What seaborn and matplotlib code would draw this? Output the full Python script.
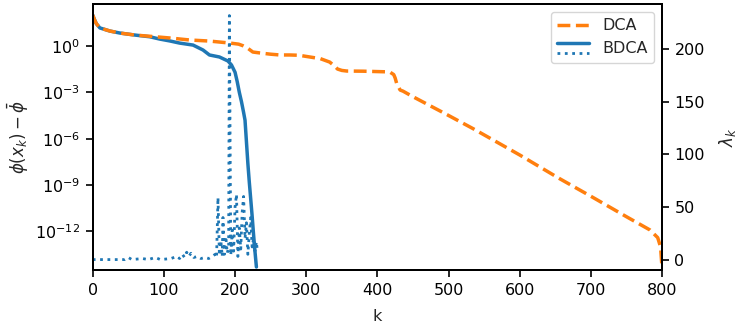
import numpy as np
import pandas as pd
import matplotlib
matplotlib.use("Agg")
import matplotlib.pyplot as plt
import seaborn as sns
from matplotlib.legend_handler import HandlerBase
from matplotlib.lines import Line2D
from matplotlib.ticker import FixedLocator, NullLocator, LogFormatterSciNotation

# ---- data ----
dca_k = [0, 2, 5, 10, 24, 38, 59, 80, 108, 136, 164, 193, 205, 211, 218, 225, 235, 250,
         263, 277, 290, 305, 320, 333, 340, 344, 350, 357, 380, 404, 413, 418, 423, 425,
         427, 432, 436, 450, 497, 535, 600, 656, 703, 751, 783, 794, 798, 800]
dca_log = [2.0, 1.75, 1.45, 1.17, 0.97, 0.84, 0.71, 0.63, 0.52, 0.39, 0.32, 0.19, 0.12, 0.02,
           -0.15, -0.39, -0.45, -0.53, -0.58, -0.58, -0.6, -0.71, -0.82, -1.04, -1.3, -1.49,
           -1.58, -1.62, -1.63, -1.66, -1.67, -1.7, -1.85, -2.07, -2.4, -2.85, -2.92, -3.28,
           -4.42, -5.36, -7.05, -8.58, -9.8, -11.07, -11.9, -12.4, -13.0, -14.3]

bdca_k = [0, 2, 5, 10, 24, 38, 59, 80, 94, 108, 122, 141, 155, 164, 178, 190, 195, 200, 203,
          206, 209, 212, 214, 216, 218, 220, 222, 224, 226, 228, 230]
bdca_log = [2.0, 1.75, 1.45, 1.17, 0.97, 0.84, 0.71, 0.6, 0.45, 0.33, 0.19, 0.06, -0.26, -0.58,
            -0.71, -0.97, -1.23, -1.7, -2.3, -3.0, -3.6, -4.3, -4.8, -6.2, -7.6, -8.8, -9.9,
            -11.0, -12.2, -13.3, -14.3]

lam_k = [0, 45, 50, 55, 70, 78, 88, 95, 110, 118, 122, 126, 129, 132, 135, 138, 142, 147, 152,
         158, 163, 168, 172, 174, 176, 178, 180, 182, 183, 185, 187, 189, 191, 192, 194, 196,
         198, 200, 202, 204, 206, 208, 210, 212, 214, 216, 218, 220, 222, 224, 226, 228, 230, 231]
lam_val = [0, 0, 2, 0, 1, 0, 2, 0, 1, 3, 1, 5, 2, 7, 3, 6, 2, 3, 1, 2, 1, 3, 5, 2, 59, 4, 18,
           3, 40, 5, 22, 6, 12, 232, 4, 28, 8, 50, 62, 3, 30, 10, 45, 60, 20, 35, 5, 25, 40,
           12, 20, 8, 17, 10]

dca = pd.DataFrame({"k": dca_k, "gap": 10.0 ** np.array(dca_log)})
bdca = pd.DataFrame({"k": bdca_k, "gap": 10.0 ** np.array(bdca_log)})
lam = pd.DataFrame({"k": lam_k, "lam": lam_val})

sns.set_style("ticks")
plt.rcParams["font.family"] = ["DejaVu Sans"]
plt.rcParams["mathtext.fontset"] = "dejavusans"

BLUE = "#1f77b4"
ORANGE = "#ff7f0e"
FS = 11.5

fig = plt.figure(figsize=(7.48, 3.31), dpi=100)
ax = fig.add_axes([0.124, 0.184, 0.761, 0.804])
ax2 = ax.twinx()

sns.lineplot(data=bdca, x="k", y="gap", ax=ax, color=BLUE, linewidth=2.5,
             sort=False, estimator=None)
sns.lineplot(data=dca, x="k", y="gap", ax=ax, color=ORANGE, linewidth=2.5,
             linestyle="--", sort=False, estimator=None)
sns.lineplot(data=lam, x="k", y="lam", ax=ax2, color=BLUE, linewidth=2.0,
             linestyle=":", sort=False, estimator=None)

ax.set_yscale("log")
ax.set_xlim(0, 800)
ax.set_ylim(10 ** -14.5, 10 ** 2.72)
ax.yaxis.set_major_locator(FixedLocator([1e-12, 1e-9, 1e-6, 1e-3, 1e0]))
ax.yaxis.set_major_formatter(LogFormatterSciNotation())
ax.yaxis.set_minor_locator(NullLocator())
ax2.set_ylim(-10, 243)
ax2.set_yticks([0, 50, 100, 150, 200])
ax.set_xticks([0, 100, 200, 300, 400, 500, 600, 700, 800])

ax.set_xlabel("k", fontsize=FS, labelpad=8)
ax.set_ylabel(r"$\phi(x_k) - \bar{\phi}$", fontsize=FS + 0.5, labelpad=3)
ax2.set_ylabel(r"$\lambda_k$", fontsize=FS + 0.5, labelpad=9)
for a in (ax, ax2):
    for s in a.spines.values():
        s.set_visible(True)
        s.set_color("black")
        s.set_linewidth(1.4)
    a.tick_params(colors="black", labelsize=FS, length=5, width=1.2, pad=4)


class HandlerStack(HandlerBase):
    def create_artists(self, legend, orig_handle, xdescent, ydescent, width, height,
                       fontsize, trans):
        ys = [height * 0.95 - ydescent, height * 0.05 - ydescent]
        arts = []
        for h, y in zip(orig_handle, ys):
            ln = Line2D([-xdescent, -xdescent + width], [y, y], color=h.get_color(),
                        linestyle=h.get_linestyle(), linewidth=h.get_linewidth())
            ln.set_transform(trans)
            arts.append(ln)
        return arts


h_dca = Line2D([], [], color=ORANGE, linestyle="--", linewidth=2.5)
h_bs = Line2D([], [], color=BLUE, linestyle="-", linewidth=2.5)
h_bd = Line2D([], [], color=BLUE, linestyle=":", linewidth=2.0)
ax2.legend([h_dca, (h_bs, h_bd)], ["DCA", "BDCA"], loc="upper right",
           handler_map={tuple: HandlerStack()}, fontsize=FS, frameon=True)

fig.savefig("out.png", dpi=100)
